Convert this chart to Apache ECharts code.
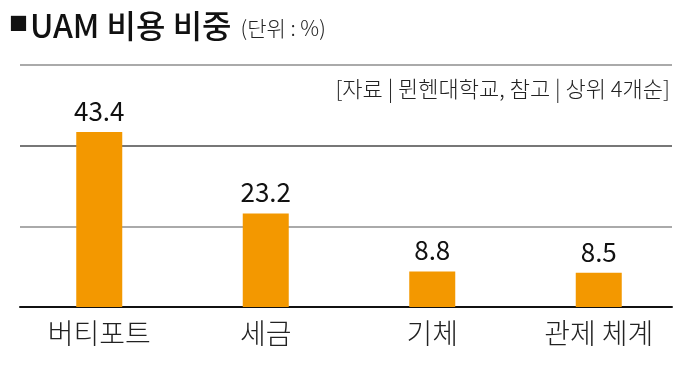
<!DOCTYPE html>
<html><head><meta charset="utf-8">
<script src="https://cdn.jsdelivr.net/npm/echarts@6/dist/echarts.min.js"></script>
<style>html,body{margin:0;padding:0;background:#fff}#c{width:682px;height:367px}</style>
</head><body><div id="c"></div>
<script>
const categories = ['버티포트', '세금', '기체', '관제 체계'];
const values = [43.4, 23.2, 8.8, 8.5];
const yTicks = [0, 20, 40, 60];
const titleMain = 'UAM 비용 비중';
const titleUnit = '(단위 : %)';
const sourceText = '[자료 | 뮌헨대학교, 참고 | 상위 4개순]';

const FONT = '"Noto Sans CJK KR", sans-serif';
const yMax = yTicks[yTicks.length - 1];
const chart = echarts.init(document.getElementById('c'), null, {renderer: 'canvas'});
chart.setOption({
  animation: false,
  backgroundColor: '#fff',
  title: {
    left: 4, top: 5,
    text: '{sq|■}{main|' + titleMain + '} {sub|' + titleUnit + '}',
    textStyle: {
      rich: {
        sq: {fontFamily: FONT, fontSize: 19, color: '#111', padding: [0, 2, 4, 0]},
        main: {fontFamily: FONT, fontSize: 32, fontWeight: 500, color: '#111'},
        sub: {fontFamily: FONT, fontSize: 21, fontWeight: 300, color: '#222', padding: [4, 0, 0, 4]}
      }
    }
  },
  graphic: [{
    type: 'text', right: 12, top: 78,
    style: {text: sourceText, font: '300 22px ' + FONT, fill: '#222'}
  }],
  grid: [
    {left: 20, right: 10, top: 65, bottom: 60, containLabel: false},
    {left: 16, right: -6, top: 65, bottom: 60, containLabel: false}
  ],
  xAxis: [
    {gridIndex: 0, type: 'value', min: 0, max: 1, show: true,
      axisLine: {show: true, onZero: false, lineStyle: {color: '#111', width: 2}},
      axisTick: {show: false}, axisLabel: {show: false}, splitLine: {show: false}},
    {gridIndex: 1, type: 'category', data: categories,
      axisLine: {show: false}, axisTick: {show: false},
      axisLabel: {fontFamily: FONT, fontSize: 28, fontWeight: 300, color: '#222', margin: 12}}
  ],
  yAxis: [
    {gridIndex: 0, type: 'value', min: 0, max: yMax, interval: 20,
      axisLine: {show: false}, axisTick: {show: false}, axisLabel: {show: false},
      splitLine: {show: true, lineStyle: {color: ['#fff', '#aaa', '#777', '#aaa'], width: 2}}},
    {gridIndex: 1, type: 'value', min: 0, max: yMax, show: false, splitLine: {show: false}}
  ],
  series: [{
    type: 'bar', xAxisIndex: 1, yAxisIndex: 1,
    data: values, barWidth: 46,
    itemStyle: {color: '#F39800'},
    label: {show: true, position: 'top', distance: 8,
      fontFamily: FONT, fontSize: 26, color: '#111',
      formatter: p => p.value.toFixed(1)}
  }]
});
</script></body></html>
